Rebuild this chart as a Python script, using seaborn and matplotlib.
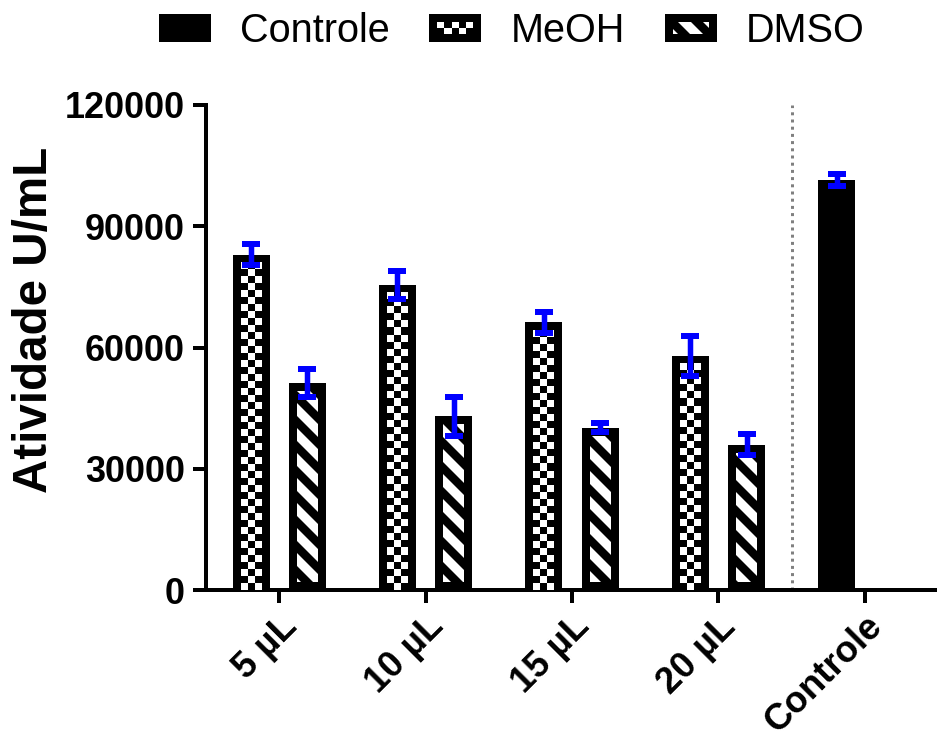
import matplotlib
matplotlib.use("Agg")
import numpy as np
import pandas as pd
import matplotlib.pyplot as plt
import seaborn as sns
from matplotlib.patches import Patch, Rectangle
from matplotlib.legend_handler import HandlerBase

# ---------------- data ----------------
categories = ["5 µL", "10 µL", "15 µL", "20 µL", "Controle"]
meoh_values = [83000, 75500, 66300, 57900]
meoh_err = [2500, 3500, 2600, 5000]
dmso_values = [51200, 43000, 40200, 36000]
dmso_err = [3500, 4800, 1000, 2600]
controle_value = [101400]
controle_err = [1500]
yticks = [0, 30000, 60000, 90000, 120000]
legend_labels = ["Controle", "MeOH", "DMSO"]
ylabel = "Atividade U/mL"

# ---------------- style ----------------
DPI = 150
PX = 72.0 / DPI  # points per pixel
BORDER = 8  # px, drawn inside the bars

sns.set_theme(style="ticks")
plt.rcParams['font.family'] = ['Liberation Sans', 'DejaVu Sans']
plt.rcParams['hatch.linewidth'] = 8.5 * PX
plt.rcParams['hatch.color'] = 'black'
for k in ('text.color', 'axes.labelcolor', 'xtick.color', 'ytick.color', 'axes.edgecolor'):
    plt.rcParams[k] = 'black'

rows = []
for c, v in zip(categories[:4], meoh_values):
    rows.append(dict(group=c, slot="a", value=v))
for c, v in zip(categories[:4], dmso_values):
    rows.append(dict(group=c, slot="b", value=v))
rows.append(dict(group=categories[4], slot="a", value=controle_value[0]))
df = pd.DataFrame(rows)

fig = plt.figure(figsize=(937 / DPI, 740 / DPI), dpi=DPI)
ax = fig.add_axes([206 / 937, 1 - 590 / 740, 732 / 937, 485 / 740])

sns.barplot(data=df, x="group", y="value", hue="slot", order=categories,
            hue_order=["a", "b"], width=0.77, gap=0.344, dodge=True,
            legend=False, errorbar=None, ax=ax)

ax.set_xlim(-0.5, 4.5)
ax.set_ylim(0, 120000)

bars = {}
for p in ax.patches:
    w = p.get_width()
    h = p.get_height()
    if not np.isfinite(h) or w <= 0:
        continue
    cx = p.get_x() + w / 2
    idx = int(round(cx))
    slot = 'a' if cx < idx else 'b'
    bars[(idx, slot)] = p

for key, p in bars.items():
    p.set_edgecolor('black')
    p.set_linewidth(2 * BORDER * PX)
    p.set_clip_path(p)  # keep the border inside the bar
    if key[1] == 'b':
        p.set_facecolor('white')
        p.set_hatch('\\\\')
    else:
        p.set_facecolor('black')

# checkerboard fill for MeOH bars
inv = ax.transData.inverted()
cell = 7.0
for i in range(4):
    p = bars[(i, 'a')]
    x0, x1 = p.get_x(), p.get_x() + p.get_width()
    y1 = p.get_height()
    (dx0, dy0), (dx1, dy1) = ax.transData.transform([(x0, 0), (x1, y1)])
    (ix0, iy0), (ix1, iy1) = inv.transform([(dx0 + BORDER, dy0), (dx1 - BORDER, dy1 - BORDER)])
    ncol = max(1, int(round((dx1 - dx0 - 2 * BORDER) / cell)))
    nrow = max(1, int(round((dy1 - dy0 - BORDER) / cell)))
    arr = np.add.outer(np.arange(nrow), np.arange(ncol)) % 2
    ax.imshow(1 - arr, cmap='gray', vmin=0, vmax=1, extent=(ix0, ix1, iy0, iy1),
              origin='upper', aspect='auto', interpolation='nearest', zorder=3)

# error bars
ex, ey, ee = [], [], []
for i in range(4):
    for slot, errs in (('a', meoh_err), ('b', dmso_err)):
        p = bars[(i, slot)]
        ex.append(p.get_x() + p.get_width() / 2)
        ey.append(p.get_height())
        ee.append(errs[i])
p = bars[(4, 'a')]
ex.append(p.get_x() + p.get_width() / 2)
ey.append(p.get_height())
ee.append(controle_err[0])
ax.errorbar(ex, ey, yerr=ee, fmt='none', ecolor='#0000ff', elinewidth=5.5 * PX,
            capsize=9.5 * PX, capthick=6 * PX, zorder=6)

ax.axvline(3.5, color='#808080', lw=3 * PX, linestyle=(0, (1, 1.4)), zorder=0.5)

ax.set_xlim(-0.5, 4.5)
ax.set_ylim(0, 120000)

# axes styling
sns.despine(ax=ax)
for s in ('left', 'bottom'):
    ax.spines[s].set_linewidth(4 * PX)
    ax.spines[s].set_color('black')
ax.tick_params(axis='both', length=13 * PX, width=4 * PX, color='black', direction='out')
ax.set_yticks(yticks)
ax.set_yticklabels([str(t) for t in yticks], fontsize=17.3, fontweight='bold')
ax.tick_params(axis='y', pad=8 * PX)
ax.set_xticks(range(len(categories)))
ax.set_xticklabels(categories, rotation=45, ha='right', va='top',
                   rotation_mode='anchor', fontsize=17.6, fontweight='bold')
ax.tick_params(axis='x', pad=6 * PX)
ax.set_xlabel('')
ax.set_ylabel(ylabel, fontsize=22.8, fontweight='bold')
ax.yaxis.set_label_coords(-0.203, 0.557)


# legend
class HandlerChecker(HandlerBase):
    def create_artists(self, legend, orig_handle, xdescent, ydescent, width,
                       height, fontsize, trans):
        x0, y0 = -xdescent, -ydescent
        lw = BORDER * PX
        arts = [Rectangle((x0, y0), width, height, facecolor='black',
                          edgecolor='black', lw=lw, transform=trans)]
        inset = lw / 2
        iw, ih = width - 2 * inset, height - 2 * inset
        ncol, nrow = 5, 2
        cw, ch = iw / ncol, ih / nrow
        for r in range(nrow):
            for c in range(ncol):
                if (r + c) % 2 == 1:
                    arts.append(Rectangle((x0 + inset + c * cw, y0 + inset + r * ch), cw, ch,
                                          facecolor='white', edgecolor='none', lw=0,
                                          transform=trans))
        return arts


LW = BORDER * PX
h_ctrl = Patch(facecolor='black', edgecolor='black', lw=LW)
h_meoh = Patch(facecolor='black', edgecolor='black', lw=LW)
h_dmso = Patch(facecolor='white', edgecolor='black', lw=LW, hatch='\\\\')
LFS = 19
em = LFS / PX
fig.legend([h_ctrl, h_meoh, h_dmso], legend_labels, loc='center',
           bbox_to_anchor=(0.548, 0.958), ncol=3, frameon=False, fontsize=LFS,
           handlelength=44 / em, handleheight=16 / em, handletextpad=33 / em,
           columnspacing=44 / em, handler_map={h_meoh: HandlerChecker()})

fig.savefig("out.png", dpi=DPI)
